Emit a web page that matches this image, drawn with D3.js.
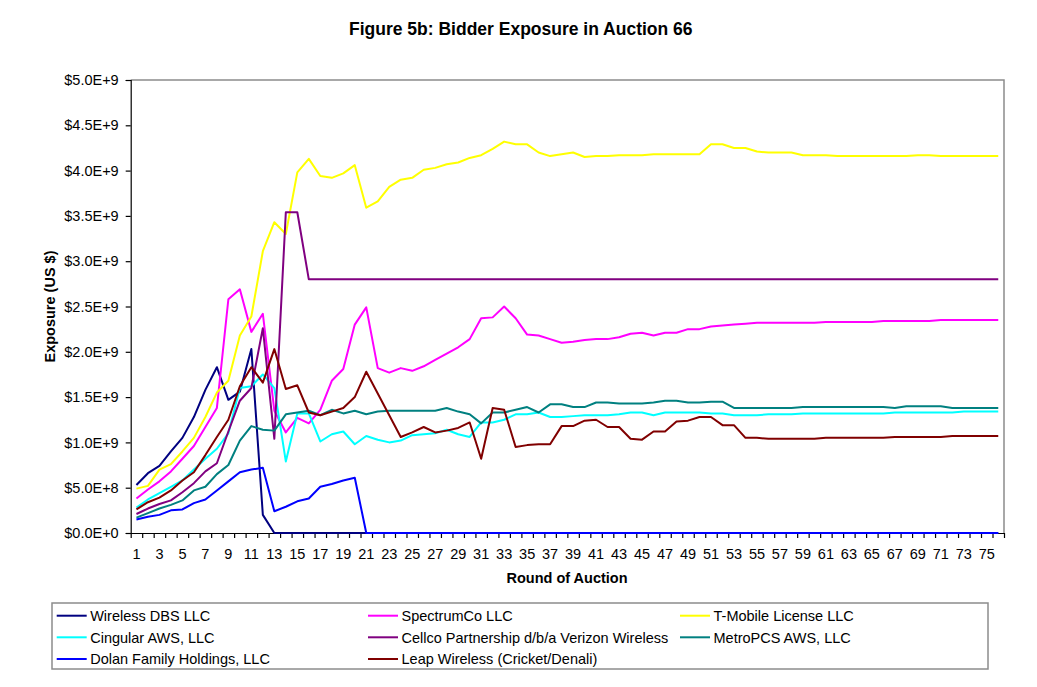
<!DOCTYPE html>
<html>
<head>
<meta charset="utf-8">
<script src="https://cdn.jsdelivr.net/npm/d3@7"></script>
<style>
  html, body { margin: 0; padding: 0; background: #fff; }
  svg { display: block; font-family: Arial, "Liberation Sans", sans-serif; }
</style>
</head>
<body>
<svg id="chart" width="1037" height="687"></svg>
<script>
// ---------------- DATA (values in billions of US $) ----------------
const rounds = [1,2,3,4,5,6,7,8,9,10,11,12,13,14,15,16,17,18,19,20,
  21,22,23,24,25,26,27,28,29,30,31,32,33,34,35,36,37,38,39,40,
  41,42,43,44,45,46,47,48,49,50,51,52,53,54,55,56,57,58,59,60,
  61,62,63,64,65,66,67,68,69,70,71,72,73,74,75,76];

const yTickValues = [0, 0.5, 1.0, 1.5, 2.0, 2.5, 3.0, 3.5, 4.0, 4.5, 5.0];

const seriesNames = [
  "Wireless DBS LLC", "SpectrumCo LLC", "T-Mobile License LLC",
  "Cingular AWS, LLC", "Cellco Partnership d/b/a Verizon Wireless", "MetroPCS AWS, LLC",
  "Dolan Family Holdings, LLC", "Leap Wireless (Cricket/Denali)"
];

const wirelessDBS = [0.53,0.66,0.74,0.90,1.05,1.28,1.58,1.83,1.47,1.56,
  2.03,0.20,0,0,0,0,0,0,0,0,
  0,0,0,0,0,0,0,0,0,0,
  0,0,0,0,0,0,0,0,0,0,
  0,0,0,0,0,0,0,0,0,0,
  0,0,0,0,0,0,0,0,0,0,
  0,0,0,0,0,0,0,0,0,0,
  0,0,0,0,0,0];

const spectrumCo = [0.38,0.48,0.57,0.68,0.82,0.96,1.17,1.38,2.58,2.69,
  2.22,2.42,1.35,1.11,1.27,1.21,1.36,1.68,1.81,2.30,
  2.49,1.82,1.77,1.82,1.79,1.84,1.91,1.98,2.05,2.14,
  2.37,2.38,2.50,2.37,2.19,2.18,2.14,2.10,2.11,2.13,
  2.14,2.14,2.16,2.20,2.21,2.18,2.21,2.21,2.25,2.25,
  2.28,2.29,2.30,2.31,2.32,2.32,2.32,2.32,2.32,2.32,
  2.33,2.33,2.33,2.33,2.33,2.34,2.34,2.34,2.34,2.34,
  2.35,2.35,2.35,2.35,2.35,2.35];

const tMobile = [0.49,0.52,0.70,0.76,0.90,1.05,1.28,1.55,1.68,2.18,
  2.39,3.11,3.43,3.30,3.98,4.13,3.94,3.92,3.97,4.06,
  3.59,3.66,3.82,3.90,3.92,4.01,4.03,4.07,4.09,4.14,
  4.17,4.24,4.32,4.29,4.29,4.20,4.16,4.18,4.20,4.15,
  4.16,4.16,4.17,4.17,4.17,4.18,4.18,4.18,4.18,4.18,
  4.29,4.29,4.25,4.25,4.21,4.20,4.20,4.20,4.17,4.17,
  4.17,4.16,4.16,4.16,4.16,4.16,4.16,4.16,4.17,4.17,
  4.16,4.16,4.16,4.16,4.16,4.16];

const cingular = [0.28,0.37,0.44,0.51,0.58,0.70,0.82,0.93,1.10,1.60,
  1.62,1.75,1.60,0.79,1.32,1.32,1.01,1.09,1.12,0.98,
  1.07,1.03,1.00,1.02,1.08,1.09,1.10,1.14,1.09,1.06,
  1.22,1.22,1.25,1.31,1.31,1.33,1.28,1.28,1.29,1.30,
  1.30,1.30,1.31,1.33,1.33,1.30,1.33,1.33,1.33,1.33,
  1.32,1.32,1.30,1.30,1.30,1.31,1.31,1.31,1.32,1.32,
  1.32,1.32,1.32,1.32,1.32,1.32,1.33,1.33,1.33,1.33,
  1.33,1.33,1.34,1.34,1.34,1.34];

const cellco = [0.21,0.27,0.32,0.36,0.45,0.55,0.68,0.77,1.12,1.46,
  1.60,2.26,1.04,3.54,3.54,2.80,2.80,2.80,2.80,2.80,
  2.80,2.80,2.80,2.80,2.80,2.80,2.80,2.80,2.80,2.80,
  2.80,2.80,2.80,2.80,2.80,2.80,2.80,2.80,2.80,2.80,
  2.80,2.80,2.80,2.80,2.80,2.80,2.80,2.80,2.80,2.80,
  2.80,2.80,2.80,2.80,2.80,2.80,2.80,2.80,2.80,2.80,
  2.80,2.80,2.80,2.80,2.80,2.80,2.80,2.80,2.80,2.80,
  2.80,2.80,2.80,2.80,2.80,2.80];

const metroPCS = [0.17,0.22,0.27,0.31,0.36,0.47,0.51,0.65,0.75,1.02,
  1.18,1.14,1.13,1.31,1.33,1.35,1.30,1.36,1.32,1.35,
  1.31,1.34,1.35,1.35,1.35,1.35,1.35,1.38,1.34,1.31,
  1.21,1.33,1.33,1.36,1.39,1.33,1.42,1.42,1.39,1.39,
  1.44,1.44,1.43,1.43,1.43,1.44,1.46,1.46,1.44,1.44,
  1.45,1.45,1.38,1.38,1.38,1.38,1.38,1.38,1.39,1.39,
  1.39,1.39,1.39,1.39,1.39,1.39,1.38,1.40,1.40,1.40,
  1.40,1.38,1.38,1.38,1.38,1.38];

const dolan = [0.15,0.18,0.20,0.25,0.26,0.33,0.37,0.47,0.57,0.67,
  0.70,0.72,0.24,0.29,0.35,0.38,0.51,0.54,0.58,0.61,
  0,0,0,0,0,0,0,0,0,0,
  0,0,0,0,0,0,0,0,0,0,
  0,0,0,0,0,0,0,0,0,0,
  0,0,0,0,0,0,0,0,0,0,
  0,0,0,0,0,0,0,0,0,0,
  0,0,0,0,0,0];

const leap = [0.26,0.34,0.39,0.47,0.58,0.67,0.86,1.06,1.25,1.62,
  1.83,1.66,2.03,1.59,1.63,1.33,1.30,1.34,1.38,1.50,
  1.78,1.54,1.30,1.06,1.11,1.17,1.11,1.13,1.16,1.22,
  0.82,1.38,1.36,0.95,0.97,0.98,0.98,1.18,1.18,1.24,
  1.25,1.17,1.17,1.04,1.03,1.12,1.12,1.23,1.24,1.28,
  1.28,1.19,1.19,1.05,1.05,1.04,1.04,1.04,1.04,1.04,
  1.05,1.05,1.05,1.05,1.05,1.05,1.06,1.06,1.06,1.06,
  1.06,1.07,1.07,1.07,1.07,1.07];

const seriesValues = [wirelessDBS, spectrumCo, tMobile, cingular, cellco, metroPCS, dolan, leap];
const seriesColors = ["#000080", "#FF00FF", "#FFFF00", "#00FFFF", "#800080", "#008080", "#0000FF", "#800000"];
const UNIT = 1e9;

// ---------------- LAYOUT ----------------
const svg = d3.select("#chart");
const plot = { left: 130.7, right: 1004, top: 80, bottom: 533 };
const font = 'Arial, "Liberation Sans", sans-serif';

const x = d3.scaleBand().domain(rounds).range([plot.left, plot.right]).paddingInner(0).paddingOuter(0);
const xEdge = d3.scaleLinear().domain([0, rounds.length]).range([plot.left, plot.right]);
const y = d3.scaleLinear().domain([0, 5 * UNIT]).range([plot.bottom, plot.top]);

function sciFmt(v) {
  if (v === 0) return "$0.0E+0";
  const e = Math.floor(Math.log10(v) + 1e-9);
  const m = v / Math.pow(10, e);
  return "$" + m.toFixed(1) + "E+" + e;
}

// Plot frame (top & right in gray)
svg.append("path")
  .attr("d", `M${plot.left},${plot.top}H${plot.right}V${plot.bottom}`)
  .attr("fill", "none").attr("stroke", "#8c8c8c").attr("stroke-width", 1.5);

// Y axis
const yAxis = svg.append("g")
  .attr("transform", `translate(${plot.left},0)`)
  .call(d3.axisLeft(y).tickValues(yTickValues.map(v => v * UNIT)).tickSize(5).tickPadding(7).tickFormat(sciFmt));
yAxis.selectAll("text").attr("font-size", 14.5).attr("font-family", font).attr("fill", "#000");
yAxis.selectAll("line, path").attr("stroke", "#000").attr("stroke-width", 1.2);

// X axis: tick marks at category boundaries
const xTicks = svg.append("g")
  .attr("transform", `translate(0,${plot.bottom})`)
  .call(d3.axisBottom(xEdge).tickValues(d3.range(0, rounds.length + 1)).tickSize(5).tickSizeOuter(0).tickFormat(""));
xTicks.selectAll("line, path").attr("stroke", "#000").attr("stroke-width", 1.2);

// X axis labels (every other round)
const xLabels = svg.append("g")
  .attr("transform", `translate(0,${plot.bottom})`)
  .call(d3.axisBottom(x).tickValues(rounds.filter(r => r % 2 === 1)).tickSize(0).tickPadding(16));
xLabels.select(".domain").remove();
xLabels.selectAll("text").attr("font-size", 14.5).attr("font-family", font).attr("fill", "#000");

// Lines
const line = d3.line()
  .x((d, i) => x(rounds[i]) + x.bandwidth() / 2)
  .y(d => y(d * UNIT));

svg.append("g").selectAll("path.series")
  .data(seriesValues)
  .join("path")
  .attr("class", "series")
  .attr("d", d => line(d))
  .attr("fill", "none")
  .attr("stroke", (d, i) => seriesColors[i])
  .attr("stroke-width", 2)
  .attr("stroke-linejoin", "round");

// Title
svg.append("text")
  .attr("x", 520.8).attr("y", 35)
  .attr("text-anchor", "middle")
  .attr("font-family", font).attr("font-weight", "bold").attr("font-size", 17.5)
  .text("Figure 5b: Bidder Exposure in Auction 66");

// Axis titles
svg.append("text")
  .attr("transform", `translate(54.5,${(plot.top + plot.bottom) / 2}) rotate(-90)`)
  .attr("text-anchor", "middle")
  .attr("font-family", font).attr("font-weight", "bold").attr("font-size", 14.5)
  .text("Exposure (US $)");

svg.append("text")
  .attr("x", 567).attr("y", 583)
  .attr("text-anchor", "middle")
  .attr("font-family", font).attr("font-weight", "bold").attr("font-size", 14.5)
  .text("Round of Auction");

// Legend
const legend = svg.append("g");
legend.append("rect")
  .attr("x", 52).attr("y", 603).attr("width", 936).attr("height", 66)
  .attr("fill", "#fff").attr("stroke", "#8c8c8c").attr("stroke-width", 1.5);

const colX = [56.7, 368, 680];
const rowY = [615.7, 637.3, 659];
seriesNames.forEach((name, i) => {
  const cx = colX[i % 3], cy = rowY[Math.floor(i / 3)];
  legend.append("line")
    .attr("x1", cx).attr("x2", cx + 30).attr("y1", cy).attr("y2", cy)
    .attr("stroke", seriesColors[i]).attr("stroke-width", 2);
  legend.append("text")
    .attr("x", cx + 33.5).attr("y", cy + 5.3)
    .attr("font-family", font).attr("font-size", 14.5).attr("fill", "#000")
    .text(name);
});
</script>
</body>
</html>
